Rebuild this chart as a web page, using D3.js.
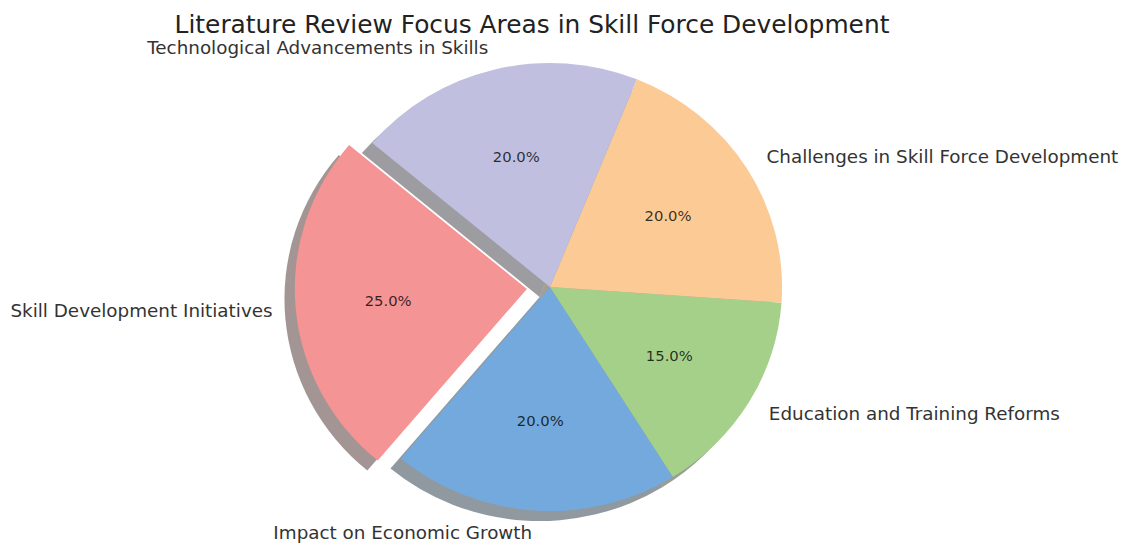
<!DOCTYPE html>
<html lang="en">
<head>
  <meta charset="UTF-8">
  <title>Literature Review Focus Areas in Skill Force Development</title>
  <script src="https://d3js.org/d3.v7.min.js"></script>
  <style>
    body { margin: 0; background: #fff; }
    svg { display: block; font-family: "DejaVu Sans", sans-serif; }
    .label { font-size: 17.7px; fill: #333; }
    .pct { font-size: 14.3px; fill: #000; fill-opacity: 0.78; }
    .title { font-size: 24px; fill: #222; }
  </style>
</head>
<body>
  <svg id="chart" width="1125" height="543"></svg>

  <script>
    // chart data
    const categories = [
      "Skill Development Initiatives",
      "Impact on Economic Growth",
      "Education and Training Reforms",
      "Challenges in Skill Force Development",
      "Technological Advancements in Skills"
    ];
    const shares = [25, 20, 15, 20, 20];
    const sliceColors = ["#f49494", "#73a9dc", "#a5d089", "#fcca94", "#c0bfe0"];
    const explode = [0.1, 0, 0, 0, 0];

    const svg = d3.select("#chart");
    const stretchX = 1.036;          // picture is a little wider than tall
    const cx = 550 / stretchX, cy = 287, r = 224;
    const shadowOff = 10;
    const toRad = Math.PI / 180;

    // matplotlib style: start at 140deg and go counter-clockwise
    const pie = d3.pie().sort(null).value(d => d)
      .startAngle((90 - 140) * toRad)
      .endAngle((90 - 140 - 360) * toRad);
    const arcs = pie(shares);
    const arc = d3.arc().innerRadius(0).outerRadius(r);

    const root = svg.append("g").attr("transform", `scale(${stretchX},1)`);

    function offsetOf(d) {
      const mid = (d.startAngle + d.endAngle) / 2;
      const e = explode[d.index] * r;
      return [cx + e * Math.sin(mid), cy - e * Math.cos(mid)];
    }

    // shadows under everything
    root.append("g").selectAll("path")
      .data(arcs)
      .join("path")
      .attr("d", arc)
      .attr("transform", d => {
        const [x, y] = offsetOf(d);
        return `translate(${x - shadowOff},${y + shadowOff})`;
      })
      .attr("fill", d => {
        const c = d3.rgb(sliceColors[d.index]);
        return d3.rgb(c.r * 0.3, c.g * 0.3, c.b * 0.3);
      })
      .attr("fill-opacity", 0.5);

    root.append("g").selectAll("path")
      .data(arcs)
      .join("path")
      .attr("d", arc)
      .attr("transform", d => {
        const [x, y] = offsetOf(d);
        return `translate(${x},${y})`;
      })
      .attr("fill", d => sliceColors[d.index]);

    // percent texts at 0.6 r
    root.append("g").selectAll("text")
      .data(arcs)
      .join("text")
      .attr("class", "pct")
      .attr("x", d => offsetOf(d)[0] + 0.6 * r * Math.sin((d.startAngle + d.endAngle) / 2))
      .attr("y", d => offsetOf(d)[1] - 0.6 * r * Math.cos((d.startAngle + d.endAngle) / 2))
      .attr("dy", "0.36em")
      .attr("text-anchor", "middle")
      .text(d => (d.data / d3.sum(shares) * 100).toFixed(1) + "%");

    // category labels at 1.1 r
    root.append("g").selectAll("text")
      .data(arcs)
      .join("text")
      .attr("class", "label")
      .attr("x", d => offsetOf(d)[0] + 1.1 * r * Math.sin((d.startAngle + d.endAngle) / 2))
      .attr("y", d => offsetOf(d)[1] - 1.1 * r * Math.cos((d.startAngle + d.endAngle) / 2))
      .attr("dy", "0.36em")
      .attr("text-anchor", d => Math.sin((d.startAngle + d.endAngle) / 2) < 0 ? "end" : "start")
      .text(d => categories[d.index]);

    root.append("text")
      .attr("class", "title")
      .attr("x", 532 / stretchX)
      .attr("y", 33)
      .attr("text-anchor", "middle")
      .text("Literature Review Focus Areas in Skill Force Development");
  </script>
</body>
</html>
